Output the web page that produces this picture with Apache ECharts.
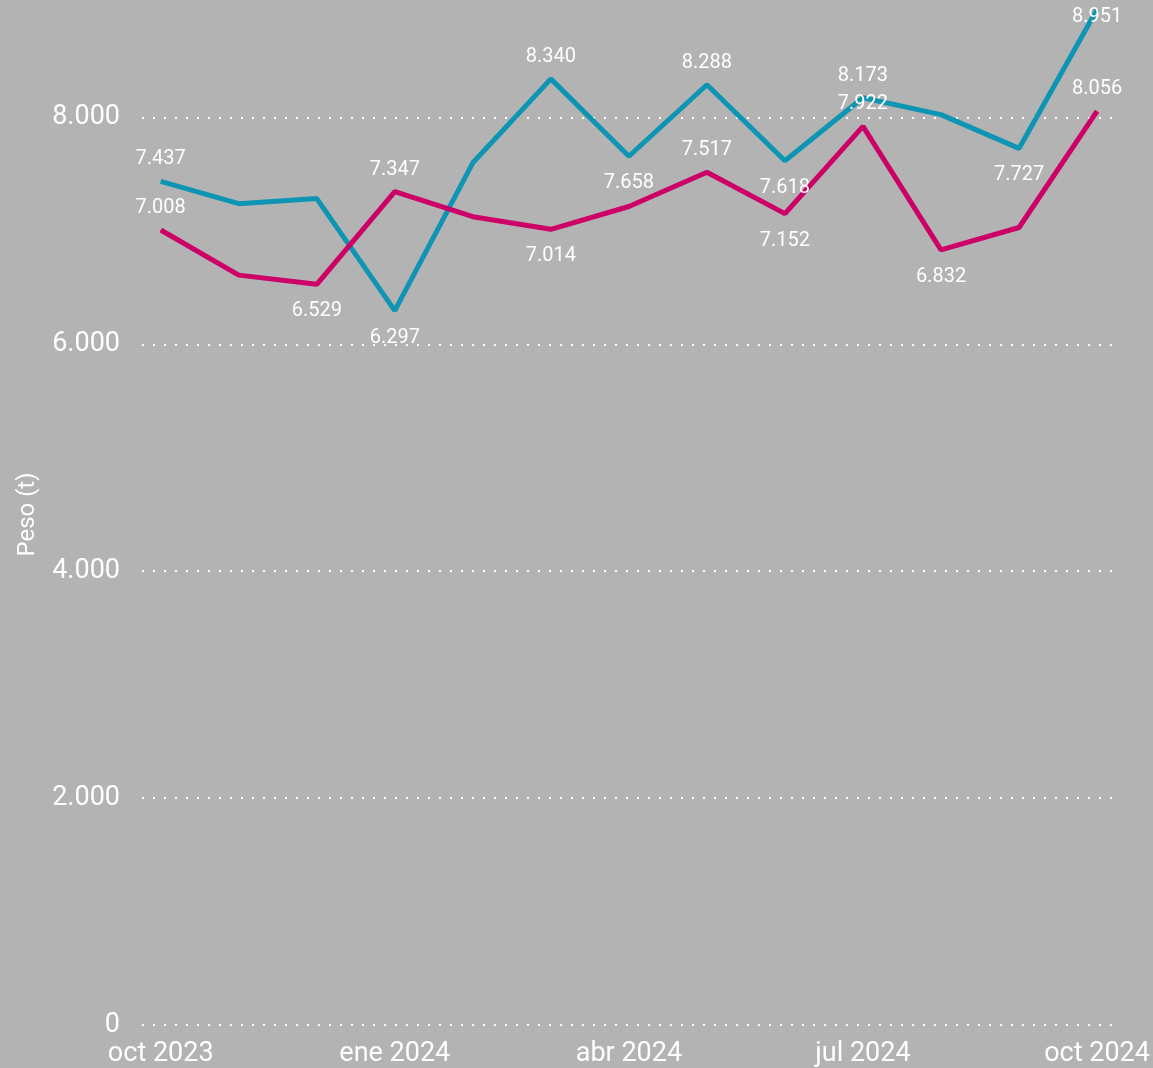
<!DOCTYPE html>
<html>
<head>
<meta charset="utf-8">
<script src="https://cdn.jsdelivr.net/npm/echarts@6/dist/echarts.min.js"></script>
<style>
  html, body { margin: 0; padding: 0; background: #b3b3b3; }
  #chart { width: 1153px; height: 1068px; }
</style>
</head>
<body>
<div id="chart"></div>
<script>
// meses oct 2023 - oct 2024
const months = ['oct 2023', 'nov 2023', 'dic 2023', 'ene 2024', 'feb 2024', 'mar 2024', 'abr 2024',
  'may 2024', 'jun 2024', 'jul 2024', 'ago 2024', 'sep 2024', 'oct 2024']
const tealValues = [7437, 7240, 7285, 6297, 7600, 8340, 7658, 8288, 7618, 8173, 8025, 7727, 8951]
const magentaValues = [7008, 6610, 6529, 7347, 7125, 7014, 7215, 7517, 7152, 7922, 6832, 7030, 8056]
const yTicks = [0, 2000, 4000, 6000, 8000]
const xTickIdx = [0, 3, 6, 9, 12]

// qué puntos llevan etiqueta y dónde ('edge' = pegada al borde superior)
const tealLabels = { 0: 'top', 3: 'bottom', 5: 'top', 6: 'bottom', 7: 'top', 8: 'bottom', 9: 'top', 11: 'bottom', 12: 'edge' }
const magentaLabels = { 0: 'top', 2: 'bottom', 3: 'top', 5: 'bottom', 7: 'top', 8: 'bottom', 9: 'top', 10: 'bottom', 12: 'top' }

const FONT = 'Roboto'
const fmt = v => String(v).replace(/\B(?=(\d{3})+(?!\d))/g, '.')

function labelFor(pos) {
  if (!pos) return { show: false }
  if (pos === 'top') return { show: true, position: 'top', distance: 12 }
  if (pos === 'bottom') return { show: true, position: 'bottom', distance: 17 }
  return { show: true, position: 'bottom', distance: -3 }
}

function buildSeries(values, labels) {
  return values.map((v, i) => ({
    value: [i, v],
    label: labelFor(labels[i])
  }))
}

function lineSeries(name, color, values, labels) {
  return {
    name: name,
    type: 'line',
    data: buildSeries(values, labels),
    showSymbol: true,
    symbol: 'circle',
    symbolSize: 0,
    lineStyle: { color: color, width: 5 },
    itemStyle: { color: color },
    labelLayout: { hideOverlap: false },
    label: {
      color: '#ffffff',
      fontSize: 20,
      fontFamily: FONT,
      formatter: p => fmt(p.value[1])
    }
  }
}

const chart = echarts.init(document.getElementById('chart'))
chart.setOption({
  backgroundColor: '#b3b3b3',
  animation: false,
  textStyle: { fontFamily: FONT },
  grid: {
    left: 142,
    right: 38,
    top: 4,
    bottom: 43
  },
  xAxis: {
    type: 'value',
    min: -0.24,
    max: 12.23,
    axisLine: { show: false },
    axisTick: { show: false },
    splitLine: { show: false },
    axisLabel: {
      customValues: xTickIdx,
      formatter: v => months[Math.round(v)],
      color: '#ffffff',
      fontSize: 27,
      fontFamily: FONT,
      margin: 16
    }
  },
  yAxis: {
    type: 'value',
    min: 0,
    max: 9000,
    name: 'Peso (t)',
    nameLocation: 'middle',
    nameGap: 102,
    nameTextStyle: { color: '#ffffff', fontSize: 24, fontFamily: FONT },
    axisLine: { show: false },
    axisTick: { show: false },
    axisLabel: {
      customValues: yTicks,
      formatter: fmt,
      color: '#ffffff',
      fontSize: 27,
      fontFamily: FONT,
      margin: 22
    },
    splitLine: {
      show: true,
      showMaxLine: false,
      lineStyle: { color: '#ffffff', type: [2, 9], width: 2 }
    }
  },
  series: [
    lineSeries('teal', '#0e95b3', tealValues, tealLabels),
    lineSeries('magenta', '#cc0066', magentaValues, magentaLabels)
  ]
})
</script>
</body>
</html>
